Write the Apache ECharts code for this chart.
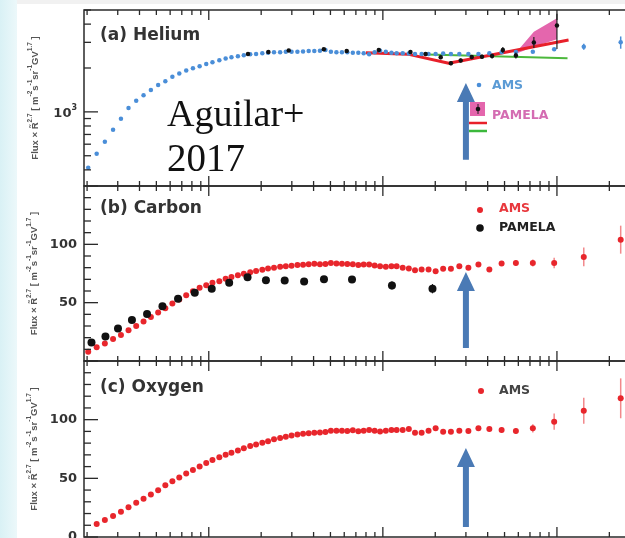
<!DOCTYPE html>
<html><head><meta charset="utf-8">
<script src="https://cdn.jsdelivr.net/npm/echarts@6/dist/echarts.min.js"></script>
<style>html,body{margin:0;padding:0;background:#fff}#c{width:625px;height:538px}</style>
</head><body><div id="c"></div>
<script>
// ---------- DATA ----------
const rigidity = [2.03,2.27,2.53,2.82,3.13,3.46,3.83,4.22,4.65,5.12,
  5.63,6.18,6.77,7.42,8.11,8.86,9.67,10.5,11.5,12.5,
  13.5,14.7,15.9,17.3,18.7,20.3,21.9,23.7,25.7,27.7,
  29.9,32.3,34.8,37.5,40.4,43.5,46.8,50.3,54.1,58.2,
  62.5,67.2,72.3,77.6,83.4,89.7,96.4,104,112,120,
  130,141,153,167,183,201,222,246,275,310,
  354,409,481,581,727,964,1426,2324];

const heliumAMS = [413,515,623,753,896,1065,1190,1300,1410,1530,
  1620,1740,1830,1920,1995,2060,2130,2190,2260,2320,
  2370,2410,2450,2484,2496,2523,2548,2564,2564,2588,
  2588,2588,2595,2617,2617,2630,2659,2588,2564,2564,
  2564,2548,2540,2523,2490,2564,2630,2588,2548,2523,
  2523,2510,2496,2496,2496,2496,2510,2496,2496,2496,
  2496,2523,2564,2570,2588,2688,2802,3002];
const heliumAMSErr = [0,0,0,0,0,0,0,0,0,0, 0,0,0,0,0,0,0,0,0,0,
  0,0,0,0,0,0,0,0,0,0, 0,0,0,0,0,0,0,0,0,0, 0,0,0,0,0,0,0,0,0,0,
  0,0,0,0,0,0,0,0,0,0, 0,0,0,30,40,60,130,290];

const pamelaHeR = [16.8,22,28.8,45.8,62,94.8,144,176,215,246,280,324,371,424,489,581,737,1000];
const pamelaHe = [2496,2576,2640,2688,2617,2659,2576,2496,2370,2156,2252,2380,2392,2418,2659,2437,2990,3913];
const pamelaHeErrDown = [40,40,40,40,40,50,60,60,70,70,70,80,80,90,120,110,250,1210];
const pamelaHeErrUp = [40,40,40,40,40,50,60,60,70,70,70,80,80,90,130,120,270,800];

const fitRedR = [80,139,239,1166];
const fitRedV = [2540,2490,2158,3112];
const fitGreenR = [180,1150];
const fitGreenV = [2480,2333];
const bandR = [581,737,1000];
const bandLo = [2500,2802,3146];
const bandHi = [2540,3548,4383];

const carbonAMS = [7.9,11.7,15.1,18.8,22.2,26.4,30.1,33.8,37.8,41.5,
  45.2,49.2,52.8,56.3,59.7,62.8,65.0,67.1,68.4,70.5,
  72.0,73.4,74.7,76.0,77.2,78.3,79.2,80.0,80.7,81.2,
  81.7,82.2,82.5,82.9,83.3,83.0,83.2,84.0,83.5,83.3,
  83.2,82.9,82.3,82.7,82.7,81.9,81.2,80.7,81.2,81.2,
  79.9,79.3,77.8,78.4,78.4,77.0,79.0,79.0,81.2,79.9,
  82.7,78.4,83.5,84.1,84.1,84.1,89.2,104];
const carbonAMSErr = [0,0,0,0,0,0,0,0,0,0, 0,0,0,0,0,0,0,0,0,0,
  0,0,0,0,0,0,0,0,0,0, 0,0,0,0,0,0,0,0,0,0, 0,0,0,0,0,0,0,0,0,1,
  1,1,1,1,1,1,1,1,1.2,1.2, 1.5,1.5,1.8,2.5,3,4.5,8,12];

const pamelaCR = [2.12,2.55,3.01,3.62,4.42,5.42,6.66,8.31,10.4,13.1,16.7,21.3,27.3,35.3,45.9,66.5,112.8,192.8];
const pamelaC = [15.9,21.1,27.9,35.2,40.3,46.9,53.4,58.6,62.0,67.1,71.8,69.3,69.0,68.2,70.1,69.9,64.8,62.0];
const pamelaCErr = [1,1,1,1,1,1,1,1,1.2,1.5,1.5,1.8,2,2,2.5,2.5,3.5,4];

const oxygenAMS = [null,11.1,14.4,18.0,21.5,25.3,29.2,32.7,36.2,39.9,
  44.0,47.5,50.7,54.1,57.2,60.1,63.1,65.6,68.0,70.1,
  71.9,73.8,75.6,77.5,78.9,80.3,81.7,83.3,84.3,85.4,
  86.5,87.3,88.0,88.5,88.9,89.0,89.5,90.6,90.6,90.6,
  90.3,91.0,90.1,90.6,91.2,90.6,89.9,90.6,91.2,91.2,
  91.2,92.0,88.9,88.9,90.6,92.6,89.7,89.7,90.6,90.3,
  92.6,92.0,91.2,90.3,92.6,98.3,107.6,118.2];
const oxygenAMSErr = [0,0,0,0,0,0,0,0,0,0, 0,0,0,0,0,0,0,0,0,0,
  0,0,0,0,0,0,0,0,0,0, 0,0,0,0,0,0,0,0,0,0, 0,0,0,0,0,0,0,0,0,1,
  1,1,1,1,1.5,1.5,1.5,1.5,1.5,1.5, 1.8,2,2.5,2.5,3.5,7,11,17];

const panelTitles = ['(a) Helium','(b) Carbon','(c) Oxygen'];
const yLinearTicks = [0,10,20,30,40,50,60,70,80,90,100,110,120,130,140,150];
const arrowRigidity = 300;
const arrowTip = [1580,76.3,75.9];
const arrowTail = [469,11.1,8.5];

// ---------- CHART ----------
const chart = echarts.init(document.getElementById('c'), null, {renderer:'canvas'});
const X_MIN = 1.92, X_MAX = 3000;
const FONT = '"DejaVu Sans", sans-serif';

function logTicks(lo, hi) {
  const out = [];
  [1,10,100,1000,10000].forEach(d => { for (let m = 1; m <= 9; m++) { const v = m*d; if (v >= lo*0.999 && v <= hi*1.001) out.push({v, major: m === 1}); } });
  return out;
}
const xTicks = logTicks(X_MIN, X_MAX);
const yTicksA = logTicks(310, 5000);
const yTicksLin = yLinearTicks.map(v => ({v, major: v % 50 === 0}));

function tickSeries(gi, yt, xMid, yMid) {
  const data = [];
  xTicks.forEach(t => data.push([t.v, yMid, 0, t.major ? 1 : 0]));
  yt.forEach(t => data.push([xMid, t.v, 1, t.major ? 1 : 0]));
  return {
    type:'custom', xAxisIndex:gi, yAxisIndex:gi, silent:true, z:5, clip:false, data,
    renderItem(params, api) {
      const cs = params.coordSys;
      const kind = api.value(2), major = api.value(3);
      const p = api.coord([api.value(0), api.value(1)]);
      const st = {stroke:'#2a2a2a', lineWidth:1.3};
      if (kind === 0) {
        const len = major ? 10 : 5, b = cs.y + cs.height, t = cs.y;
        return {type:'group', children:[
          {type:'line', shape:{x1:p[0], y1:b, x2:p[0], y2:b-len}, style:st},
          {type:'line', shape:{x1:p[0], y1:t, x2:p[0], y2:t+len}, style:st}]};
      }
      const len = major ? 14 : 7, l = cs.x, r = cs.x + cs.width;
      return {type:'group', children:[
        {type:'line', shape:{x1:l, y1:p[1], x2:l+len, y2:p[1]}, style:st},
        {type:'line', shape:{x1:r, y1:p[1], x2:r-len, y2:p[1]}, style:st}]};
    }
  };
}

function errSeries(gi, xs, vs, down, up, color, width, z) {
  const data = [];
  xs.forEach((x, i) => { if (vs[i] != null && (down[i] > 0 || up[i] > 0)) data.push([x, vs[i], vs[i]-down[i], vs[i]+up[i]]); });
  return {
    type:'custom', xAxisIndex:gi, yAxisIndex:gi, silent:true, z, data,
    renderItem(params, api) {
      const a = api.coord([api.value(0), api.value(2)]);
      const b = api.coord([api.value(0), api.value(3)]);
      return {type:'line', shape:{x1:a[0], y1:a[1], x2:b[0], y2:b[1]}, style:{stroke:color, lineWidth:width}};
    }
  };
}

function pts(xs, vs) { const d = []; xs.forEach((x, i) => { if (vs[i] != null) d.push([x, vs[i]]); }); return d; }

const supName = '{t|Flux × R\u0303}{s|2.7}{t| [ m}{s|-2}{t|s}{s|-1}{t|sr}{s|-1}{t|GV}{s|1.7}{t| ]}';
const nameStyle = {rich:{
  t:{fontSize:9.5, fontWeight:'bold', color:'#555', fontFamily:'"Liberation Sans", sans-serif', lineHeight:13, verticalAlign:'bottom'},
  s:{fontSize:6.5, fontWeight:'bold', color:'#555', fontFamily:'"Liberation Sans", sans-serif', lineHeight:13, verticalAlign:'top'}}};
const labelStyle = {fontSize:13, fontWeight:'bold', color:'#333', fontFamily:FONT, margin:7};

const grids = [
  {left:84, top:10, width:556, height:176},
  {left:84, top:186, width:556, height:175},
  {left:84, top:361, width:556, height:176}
].map(g => Object.assign(g, {show:true, borderColor:'#2a2a2a', borderWidth:1.5, backgroundColor:'rgba(0,0,0,0)', containLabel:false, outerBoundsMode:'none'}));

const xAxes = [0,1,2].map(i => ({type:'log', logBase:10, gridIndex:i, min:X_MIN, max:X_MAX,
  axisLine:{show:false}, axisTick:{show:false}, axisLabel:{show:false}, splitLine:{show:false}}));

const yAxes = [
  {type:'log', logBase:10, gridIndex:0, min:310, max:5000,
   axisLine:{show:false}, axisTick:{show:false}, splitLine:{show:false},
   axisLabel:Object.assign({}, labelStyle, {formatter: v => Math.abs(v-1000) < 1 ? '{b|10}{s|3}' : '',
     rich:{b:{fontSize:13, fontWeight:'bold', color:'#333', fontFamily:FONT, lineHeight:16, verticalAlign:'bottom'},
           s:{fontSize:8, fontWeight:'bold', color:'#333', fontFamily:FONT, lineHeight:16, verticalAlign:'top'}}}),
   name:supName, nameLocation:'middle', nameRotate:90, nameGap:44, nameTextStyle:nameStyle},
  {type:'value', gridIndex:1, min:0, max:150, interval:50,
   axisLine:{show:false}, axisTick:{show:false}, splitLine:{show:false},
   axisLabel:Object.assign({}, labelStyle, {formatter: v => (v === 50 || v === 100) ? String(v) : ''}),
   name:supName, nameLocation:'middle', nameRotate:90, nameGap:44, nameTextStyle:nameStyle},
  {type:'value', gridIndex:2, min:0, max:150, interval:50,
   axisLine:{show:false}, axisTick:{show:false}, splitLine:{show:false},
   axisLabel:Object.assign({}, labelStyle, {formatter: v => v === 150 ? '' : String(v)}),
   name:supName, nameLocation:'middle', nameRotate:90, nameGap:44, nameTextStyle:nameStyle}
];

const BLUE = '#4a8ed8', RED = '#e8262c';
const series = [
  // panel a
  {type:'custom', xAxisIndex:0, yAxisIndex:0, silent:true, z:1, data:[[bandR[0], bandLo[0]]],
   renderItem(params, api) {
     const p = [];
     bandR.forEach((r, i) => p.push(api.coord([r, bandHi[i]])));
     for (let i = bandR.length-1; i >= 0; i--) p.push(api.coord([bandR[i], bandLo[i]]));
     return {type:'polygon', shape:{points:p}, style:{fill:'#e466ad'}};
   }},
  {type:'line', xAxisIndex:0, yAxisIndex:0, data:pts(fitGreenR, fitGreenV), showSymbol:false, silent:true, z:2,
   lineStyle:{color:'#4cb83c', width:2}},
  {type:'line', xAxisIndex:0, yAxisIndex:0, data:pts(fitRedR, fitRedV), showSymbol:false, silent:true, z:3,
   lineStyle:{color:'#e8202a', width:3}},
  errSeries(0, rigidity, heliumAMS, heliumAMSErr, heliumAMSErr, BLUE, 1.5, 4),
  {type:'scatter', xAxisIndex:0, yAxisIndex:0, data:pts(rigidity, heliumAMS), symbolSize:4.5, silent:true, z:4,
   itemStyle:{color:BLUE, opacity:1}},
  errSeries(0, pamelaHeR, pamelaHe, pamelaHeErrDown, pamelaHeErrUp, '#222', 1.2, 6),
  {type:'scatter', xAxisIndex:0, yAxisIndex:0, data:pts(pamelaHeR, pamelaHe), symbolSize:4.5, silent:true, z:6,
   itemStyle:{color:'#111', opacity:1}},
  // panel b
  errSeries(1, rigidity, carbonAMS, carbonAMSErr, carbonAMSErr, 'rgba(232,38,44,0.55)', 1.5, 3),
  {type:'scatter', xAxisIndex:1, yAxisIndex:1, data:pts(rigidity, carbonAMS), symbolSize:6, silent:true, z:4,
   itemStyle:{color:RED, opacity:1}},
  errSeries(1, pamelaCR, pamelaC, pamelaCErr, pamelaCErr, '#222', 1.2, 3),
  {type:'scatter', xAxisIndex:1, yAxisIndex:1, data:pts(pamelaCR, pamelaC), symbolSize:8, silent:true, z:4,
   itemStyle:{color:'#111', opacity:1}},
  // panel c
  errSeries(2, rigidity, oxygenAMS, oxygenAMSErr, oxygenAMSErr, 'rgba(232,38,44,0.55)', 1.5, 3),
  {type:'scatter', xAxisIndex:2, yAxisIndex:2, data:pts(rigidity, oxygenAMS), symbolSize:6, silent:true, z:4,
   itemStyle:{color:RED, opacity:1}},
  tickSeries(0, yTicksA, 100, 1000),
  tickSeries(1, yTicksLin, 100, 75),
  tickSeries(2, yTicksLin, 100, 75)
];

const bg = [
  {type:'rect', shape:{x:0, y:0, width:17, height:538}, style:{fill:new echarts.graphic.LinearGradient(0,0,1,0,[{offset:0,color:'#d9f1f5'},{offset:1,color:'#ecf8fa'}])}, z:-10, silent:true},
  {type:'rect', shape:{x:17, y:0, width:608, height:4}, style:{fill:'#f1f1f1'}, z:-10, silent:true}
];

chart.setOption({animation:false, backgroundColor:'#fff', grid:grids, xAxis:xAxes, yAxis:yAxes, series, graphic:bg});

// ---------- annotations (titles, legends, arrows) ----------
const g = [];
const titleTops = [27, 200, 379];
panelTitles.forEach((t, i) => g.push({type:'text', x:100, y:titleTops[i], silent:true, z:20,
  style:{text:t, font:'bold 17px ' + FONT, fill:'#333', verticalAlign:'top', textVerticalAlign:'top'}}));

g.push({type:'text', x:167, y:97, silent:true, z:20, style:{text:'Aguilar+', font:'38px "Liberation Serif", serif', fill:'#111', verticalAlign:'top', textVerticalAlign:'top'}});
g.push({type:'text', x:167, y:141, silent:true, z:20, style:{text:'2017', font:'39px "Liberation Serif", serif', fill:'#111', verticalAlign:'top', textVerticalAlign:'top'}});

function legText(x, y, text, color) {
  return {type:'text', x, y, silent:true, z:20, style:{text, font:'bold 12.5px ' + FONT, fill:color, verticalAlign:'middle', textVerticalAlign:'middle'}};
}
// panel a legend
g.push({type:'circle', shape:{cx:479, cy:85, r:2.3}, style:{fill:BLUE}, z:20, silent:true});
g.push(legText(492, 86, 'AMS', '#5b9bd5'));
g.push({type:'rect', shape:{x:470, y:102, width:15, height:14}, style:{fill:'#e466ad'}, z:20, silent:true});
g.push({type:'line', shape:{x1:478, y1:104, x2:478, y2:114}, style:{stroke:'#222', lineWidth:1}, z:21, silent:true});
g.push({type:'circle', shape:{cx:478, cy:109, r:2.3}, style:{fill:'#111'}, z:21, silent:true});
g.push(legText(492, 116, 'PAMELA', '#d46cb2'));
g.push({type:'line', shape:{x1:469, y1:123, x2:487, y2:123}, style:{stroke:'#e8202a', lineWidth:2.5}, z:20, silent:true});
g.push({type:'line', shape:{x1:469, y1:131, x2:487, y2:131}, style:{stroke:'#3cb83c', lineWidth:2.5}, z:20, silent:true});
// panel b legend
g.push({type:'circle', shape:{cx:480, cy:210, r:3}, style:{fill:RED}, z:20, silent:true});
g.push(legText(499, 209, 'AMS', '#e8383d'));
g.push({type:'circle', shape:{cx:480, cy:228, r:3.8}, style:{fill:'#111'}, z:20, silent:true});
g.push(legText(499, 228, 'PAMELA', '#222'));
// panel c legend
g.push({type:'circle', shape:{cx:481, cy:391, r:3}, style:{fill:RED}, z:20, silent:true});
g.push(legText(499, 391, 'AMS', '#444'));

// arrows anchored to rigidity 300 GV
for (let i = 0; i < 3; i++) {
  const tip = chart.convertToPixel({gridIndex:i}, [arrowRigidity, arrowTip[i]]);
  const tail = chart.convertToPixel({gridIndex:i}, [arrowRigidity, arrowTail[i]]);
  const x = tip[0], ty = tip[1], by = tail[1], hh = 19, hw = 9, sw = 3;
  g.push({type:'polygon', z:30, silent:true, shape:{points:[
    [x, ty], [x+hw, ty+hh], [x+sw, ty+hh], [x+sw, by], [x-sw, by], [x-sw, ty+hh], [x-hw, ty+hh]]},
    style:{fill:'#4a7ab5'}});
}
chart.setOption({graphic: bg.concat(g)});
</script>
</body></html>
